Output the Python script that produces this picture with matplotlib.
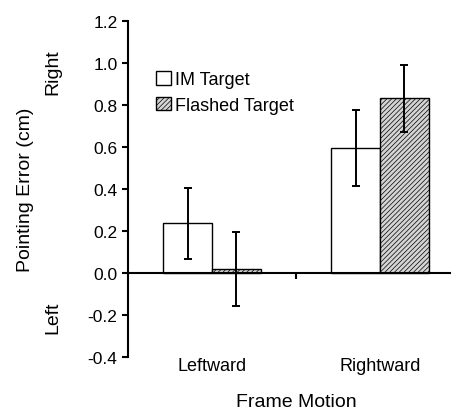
import matplotlib
matplotlib.use("Agg")
import matplotlib.pyplot as plt
import numpy as np

plt.rcParams['font.family'] = ['Liberation Sans', 'DejaVu Sans']
plt.rcParams['hatch.linewidth'] = 0.5
plt.rcParams['hatch.color'] = '#333333'

categories = ["Leftward", "Rightward"]
im_values = [0.237, 0.594]
im_err = [0.170, 0.180]
flashed_values = [0.019, 0.832]
flashed_err = [0.177, 0.160]
yticks = [-0.4, -0.2, 0.0, 0.2, 0.4, 0.6, 0.8, 1.0, 1.2]

fig = plt.figure(figsize=(4.58, 4.14), dpi=100)
ax = fig.add_axes([0.2795, 0.1353, 0.703, 0.8116])

x = np.arange(len(categories)) + 0.5
w = 0.29
err_kw = dict(ecolor='black', elinewidth=1.4, capsize=3, capthick=1.4)
ax.bar(x - w / 2, im_values, w, yerr=im_err, color='white', edgecolor='black',
       linewidth=1.0, label='IM Target', error_kw=err_kw, zorder=2)
ax.bar(x + w / 2, flashed_values, w, yerr=flashed_err, color='#d4d4d4', edgecolor='black',
       linewidth=1.0, hatch='///////', label='Flashed Target', error_kw=err_kw, zorder=2)

ax.set_xlim(0, 1.917)
ax.set_ylim(-0.4, 1.2)
ax.set_yticks(yticks)
ax.set_yticklabels([f"{v:.1f}" for v in yticks])

for s in ['top', 'right']:
    ax.spines[s].set_visible(False)
ax.spines['left'].set_linewidth(1.5)
ax.spines['bottom'].set_linewidth(1.5)
ax.spines['bottom'].set_position(('data', 0))
ax.spines['bottom'].set_zorder(3)
ax.set_xticks([1.0])
ax.set_xticklabels([''])
ax.tick_params(axis='x', direction='out', length=4, width=1.5)
ax.tick_params(axis='y', direction='out', length=4.5, width=1.5, labelsize=12.5, pad=3)

for xi, name in zip(x, categories):
    ax.annotate(name, xy=(xi, 0), xycoords=('data', 'axes fraction'),
                xytext=(0, -6), textcoords='offset points',
                ha='center', va='center', fontsize=13)

fig.text(0.055, 0.541, "Pointing Error (cm)", rotation=90, ha='center', va='center', fontsize=14)
fig.text(0.116, 0.826, "Right", rotation=90, ha='center', va='center', fontsize=14)
fig.text(0.116, 0.232, "Left", rotation=90, ha='center', va='center', fontsize=14)
fig.text(0.647, 0.027, "Frame Motion", ha='center', va='center', fontsize=14)

ax.legend(loc='upper left', bbox_to_anchor=(0.066, 0.872), frameon=False,
          handlelength=0.8, handleheight=0.8, handletextpad=0.25,
          labelspacing=0.45, fontsize=13, borderaxespad=0)

fig.savefig("out.png", dpi=100)
